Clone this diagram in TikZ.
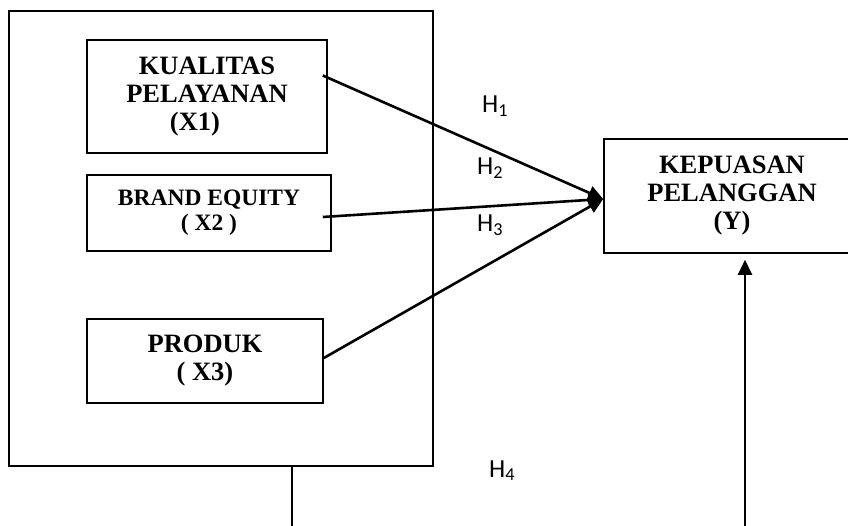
\documentclass[tikz,border=0pt]{standalone}
\usepackage{fontspec}
\setmainfont{Liberation Serif}
\newfontfamily\hfont{Carlito}
\usetikzlibrary{arrows.meta,positioning}

\begin{document}
\begin{tikzpicture}[x=1pt,y=-1pt,>={Triangle[length=15pt,width=14pt]},
    var node/.style={draw,line width=1.6pt,align=center,inner sep=0pt,font=\fontsize{26.5}{28}\selectfont\bfseries},
    hyp label/.style={anchor=base west,inner sep=0pt,font=\hfont\fontsize{26}{28}\selectfont}]

    \clip (0,0) rectangle (848,526);

    \node[draw,line width=1.8pt,minimum width=424pt,minimum height=455pt] (frame) at (221,238.5) {};
    \node[var node,minimum width=240pt,minimum height=113pt] (kual) at (207,96.5) {KUALITAS\\PELAYANAN\\(X1)\hspace*{24pt}};
    \node[var node,minimum width=244pt,minimum height=76pt,font=\fontsize{23.5}{25}\selectfont\bfseries] (brand) at (209,213) {BRAND EQUITY\\( X2 )};
    \node[var node,minimum width=236pt,minimum height=84pt] (prod) at (205,361) {PRODUK\\( X3)};
    \node[var node,minimum width=256pt,minimum height=114pt] (kep) at (732,196) {KEPUASAN\\PELANGGAN\\(Y)};

    \coordinate (tail) at (292,526);
    \coordinate (foot) at (745,526);

    \node[hyp label] (h1) at (482,113) {H\textsubscript{1}};
    \node[hyp label] (h2) at (477,175) {H\textsubscript{2}};
    \node[hyp label] (h3) at (477,232) {H\textsubscript{3}};
    \node[hyp label] (h4) at (489,477) {H\textsubscript{4}};

    \path[->,line width=2.6pt]
        ([xshift=-5pt,yshift=21pt]kual.east) edge ([yshift=-3pt]kep.west)
        ([xshift=-9pt,yshift=-4pt]brand.east) edge ([yshift=-3pt]kep.west)
        ([yshift=3pt]prod.east) edge ([yshift=-3pt]kep.west)
        (foot) edge[line width=2.2pt,shorten >=6pt] (foot |- kep.south)
        ;
    \draw[line width=1.8pt] (tail |- frame.south) -- (tail);
\end{tikzpicture}
\end{document}
